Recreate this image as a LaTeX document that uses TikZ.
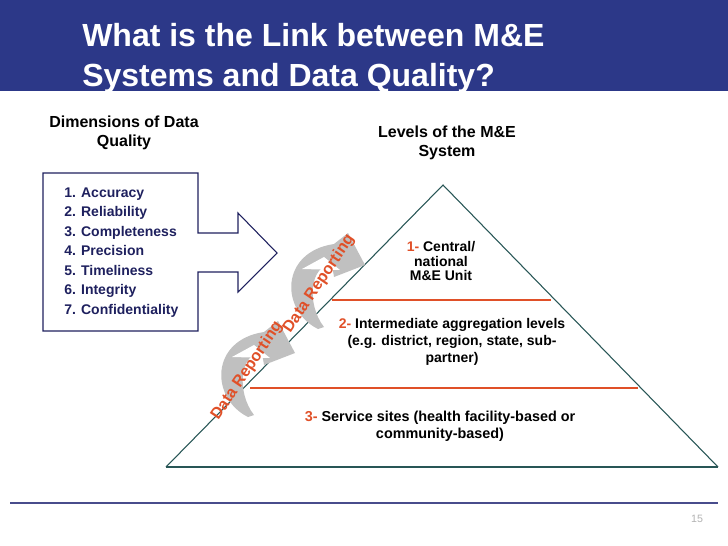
\documentclass[tikz,border=0pt]{standalone}
\usepackage{fontspec}
\setmainfont{Liberation Sans}
\definecolor{banner}{RGB}{44,56,136}
\definecolor{navy}{RGB}{30,32,94}
\definecolor{edge}{RGB}{40,86,86}
\definecolor{rust}{RGB}{224,80,40}
\definecolor{flow}{RGB}{192,192,192}
\definecolor{footrule}{RGB}{72,76,140}

\begin{document}
\begin{tikzpicture}[x=0.75pt, y=-0.75pt,
  head/.style={font=\fontsize{12}{14}\selectfont\bfseries, align=center, inner sep=0pt},
  item/.style={font=\fontsize{10.5}{12}\selectfont\bfseries, text=navy, inner sep=0pt, anchor=base west},
  level/.style={font=\fontsize{10.5}{12.75}\selectfont\bfseries, align=center, inner sep=0pt},
  divider/.style={rust, line width=1.6pt},
  report/.style={font=\fontsize{12}{14}\selectfont\bfseries, text=rust, rotate=56, inner sep=0pt}]
  \useasboundingbox (0,0) rectangle (728,546);
  % title banner
  \fill[banner] (0,0) rectangle (728,91);
  \node[anchor=base west, text=white, font=\fontsize{24}{30}\selectfont\bfseries, inner sep=0pt] (title1) at (82,46) {What is the Link between M\&E};
  \node[anchor=base west, text=white, font=\fontsize{24}{30}\selectfont\bfseries, inner sep=0pt] (title2) at (82,86) {Systems and Data Quality?};
  % left: dimensions of data quality
  \node[head] (dimhead) at (124,133) {Dimensions of Data\\Quality};
  \draw[navy, line width=0.8pt] (43,173) -- (198,173) -- (198,233) -- (238,233) -- (238,213) -- (277,253)
       -- (238,292) -- (238,272) -- (198,272) -- (198,331) -- (43,331) -- cycle;
  \foreach \t [count=\i] in {Accuracy, Reliability, Completeness, Precision, Timeliness, Integrity, Confidentiality}
    \node[item] (item\i) at (64,{197+19.5*(\i-1)}) {\i. \t};
  % right: levels of the M&E system
  \node[head] (lvlhead) at (447,143) {Levels of the M\&E\\System};
  \coordinate (apex) at (443,185);
  \coordinate (bl) at (166,467);
  \coordinate (br) at (718,467);
  \draw[edge, line width=0.8pt] (bl) -- (apex) -- (br);
  \draw[edge, line width=1.8pt] (bl) -- (br);
  \coordinate (cut1l) at (332,300);
  \coordinate (cut1r) at (551,300);
  \coordinate (cut2l) at (250,388);
  \coordinate (cut2r) at (638,388);
  \draw[divider] (cut1l) -- (cut1r);
  \draw[divider] (cut2l) -- (cut2r);
  \node[level, font=\fontsize{10.5}{11.2}\selectfont\bfseries] (lvl1) at (441,261) {\textcolor{rust}{1-} Central/\\national\\M\&E Unit};
  \node[level] (lvl2) at (452,342) {\textcolor{rust}{2-} Intermediate aggregation levels\\(e.g. district, region, state, sub-\\partner)};
  \node[level, font=\fontsize{10.8}{12.75}\selectfont\bfseries] (lvl3) at (440,426) {\textcolor{rust}{3-} Service sites (health facility-based or\\community-based)};
  % data reporting arrows
  \foreach \dx/\dy in {0/0, 70/-88} {
    \begin{scope}[shift={(\dx,\dy)}]
      \fill[flow] (248,417) .. controls (210,398) and (210,340) .. (264,332) -- (278,321) -- (295,353)
           -- (264,365) -- (262,353) .. controls (240,352) and (236,392) .. (254,415) -- cycle;
      \fill[white] (232,357) -- (254,345) -- (270,358) -- cycle;
    \end{scope}
  }
  \node[report] (rep1) at (247,371) {Data Reporting};
  \node[report] (rep2) at (319,284) {Data Reporting};
  % footer
  \coordinate (rulel) at (10,503);
  \coordinate (ruler) at (718,503);
  \draw[footrule, line width=1.8pt] (rulel) -- (ruler);
  \node[text=black!30, font=\fontsize{8}{9}\selectfont, inner sep=0pt] (pagenum) at (697,519) {15};
\end{tikzpicture}
\end{document}
